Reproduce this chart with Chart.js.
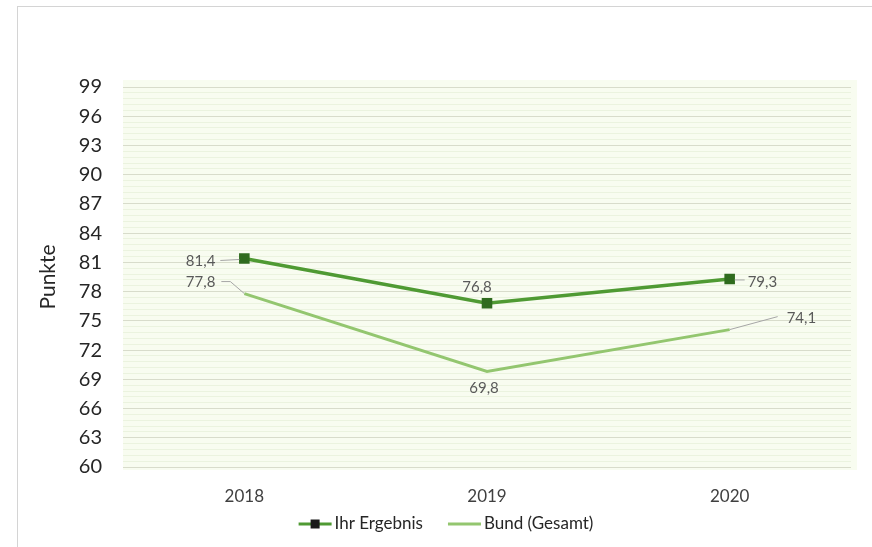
<!DOCTYPE html>
<html><head><meta charset="utf-8">
<script src="https://cdn.jsdelivr.net/npm/chart.js@4/dist/chart.umd.min.js"></script>
<style>
html,body{margin:0;padding:0;background:#fff;}
#wrap{position:relative;width:872px;height:547px;}
#frame{position:absolute;left:17px;top:6px;right:0;bottom:0;border-left:1px solid #d4d4d4;border-top:1px solid #d4d4d4;}
canvas{position:absolute;left:0;top:0;}
</style></head>
<body><div id="wrap"><div id="frame"></div><canvas id="c" width="872" height="547"></canvas></div>
<script>
const categories = ['2018', '2019', '2020'];
const ihrErgebnis = [81.4, 76.8, 79.3];
const bundGesamt = [77.8, 69.8, 74.1];
const seriesNames = ['Ihr Ergebnis', 'Bund (Gesamt)'];
const yMin = 60, yMax = 99, yStep = 3, yMinorStep = 0.6;

const FONT = 'Lato, "Open Sans", sans-serif';
const darkLine = '#4f9a33', darkMarker = '#2f6b1e', lightLine = '#93c66f';

const fmt = v => v.toFixed(1).replace('.', ',');

const labelPlacement = [
  {ds:0, i:0, dx:-29, dy:3, align:'right', leader:[[-5,1],[-24,2]]},
  {ds:1, i:0, dx:-29, dy:-11, align:'right', leader:[[0,0],[-14,-12],[-23,-12]]},
  {ds:0, i:1, dx:-10, dy:-16, align:'center', leader:null},
  {ds:1, i:1, dx:-3, dy:17, align:'center', leader:null},
  {ds:0, i:2, dx:18, dy:3, align:'left', leader:[[5,1],[15,1]]},
  {ds:1, i:2, dx:57, dy:-11, align:'left', leader:[[0,0],[48,-13]]}
];

const bgPlugin = {
  id:'bg',
  beforeDraw(chart){
    const {ctx, chartArea:a} = chart;
    ctx.save();
    ctx.fillStyle = '#f8fcf0';
    ctx.fillRect(a.left, a.top - 7, a.right - a.left + 6, a.bottom - a.top + 10);
    ctx.restore();
  }
};

const labelPlugin = {
  id:'labels',
  afterDatasetsDraw(chart){
    const ctx = chart.ctx;
    ctx.save();
    ctx.font = '15px ' + FONT;
    ctx.fillStyle = '#595959';
    ctx.textBaseline = 'middle';
    labelPlacement.forEach(p => {
      const el = chart.getDatasetMeta(p.ds).data[p.i];
      const v = chart.data.datasets[p.ds].data[p.i];
      if (p.leader){
        ctx.strokeStyle = '#a6a6a6';
        ctx.lineWidth = 1;
        ctx.beginPath();
        p.leader.forEach((pt, k) => {
          const x = el.x + pt[0], y = el.y + pt[1];
          if (k === 0) ctx.moveTo(x, y); else ctx.lineTo(x, y);
        });
        ctx.stroke();
      }
      ctx.textAlign = p.align;
      ctx.fillText(fmt(v), el.x + p.dx, el.y + p.dy);
    });
    ctx.restore();
  }
};

const legendPlugin = {
  id:'customLegend',
  afterDraw(chart){
    const ctx = chart.ctx;
    ctx.save();
    ctx.font = '17px ' + FONT;
    ctx.fillStyle = '#262626';
    ctx.textBaseline = 'middle';
    const y = 524;
    const items = [
      {name: seriesNames[0], color: darkLine, marker: true},
      {name: seriesNames[1], color: lightLine, marker: false}
    ];
    const lineW = 33, gap = 3, itemGap = 25;
    let total = 0;
    const widths = items.map(it => ctx.measureText(it.name).width);
    widths.forEach(w => total += lineW + gap + w);
    total += itemGap;
    let x = 446 - total / 2;
    items.forEach((it, k) => {
      ctx.strokeStyle = it.color;
      ctx.lineWidth = 3;
      ctx.beginPath(); ctx.moveTo(x, y); ctx.lineTo(x + lineW, y); ctx.stroke();
      if (it.marker){
        ctx.fillStyle = '#1a1a1a';
        ctx.fillRect(x + lineW/2 - 4.5, y - 4.5, 9, 9);
        ctx.fillStyle = '#262626';
      }
      ctx.textAlign = 'left';
      ctx.fillText(it.name, x + lineW + gap, y);
      x += lineW + gap + widths[k] + itemGap;
    });
    ctx.restore();
  }
};

new Chart(document.getElementById('c'), {
  type:'line',
  data:{
    labels: categories,
    datasets:[
      {label: seriesNames[0], data: ihrErgebnis, borderColor: darkLine, borderWidth: 3.5,
       pointStyle:'rect', pointRadius:5, pointBackgroundColor: darkMarker, pointBorderColor: darkMarker, tension:0},
      {label: seriesNames[1], data: bundGesamt, borderColor: lightLine, borderWidth: 3,
       pointRadius:0, tension:0}
    ]
  },
  options:{
    responsive:false, animation:false,
    layout:{padding:{left:17, top:87, right:21, bottom:40}},
    plugins:{legend:{display:false}, tooltip:{enabled:false}},
    scales:{
      x:{
        offset:true,
        grid:{display:false},
        border:{display:false},
        ticks:{font:{size:17, family:FONT}, color:'#404040', padding:11},
        afterFit(s){ s.height = 40; }
      },
      y2:{
        position:'right', min:yMin, max:yMax,
        ticks:{display:false, stepSize:yMinorStep},
        grid:{color:'#ebf3df', lineWidth:1, drawTicks:false},
        border:{display:false},
        afterFit(s){ s.width = 0; }
      },
      y:{
        min:yMin, max:yMax,
        ticks:{stepSize:yStep, font:{size:20, family:FONT}, color:'#262626', padding:21},
        grid:{color:'#d8dccb', lineWidth:1, drawTicks:false},
        border:{display:false},
        title:{display:true, text:'Punkte', font:{size:21, family:FONT}, color:'#262626', padding:{top:19,bottom:0}},
        afterFit(s){ s.width = 106; }
      }
    }
  },
  plugins:[bgPlugin, labelPlugin, legendPlugin]
});
</script></body></html>
